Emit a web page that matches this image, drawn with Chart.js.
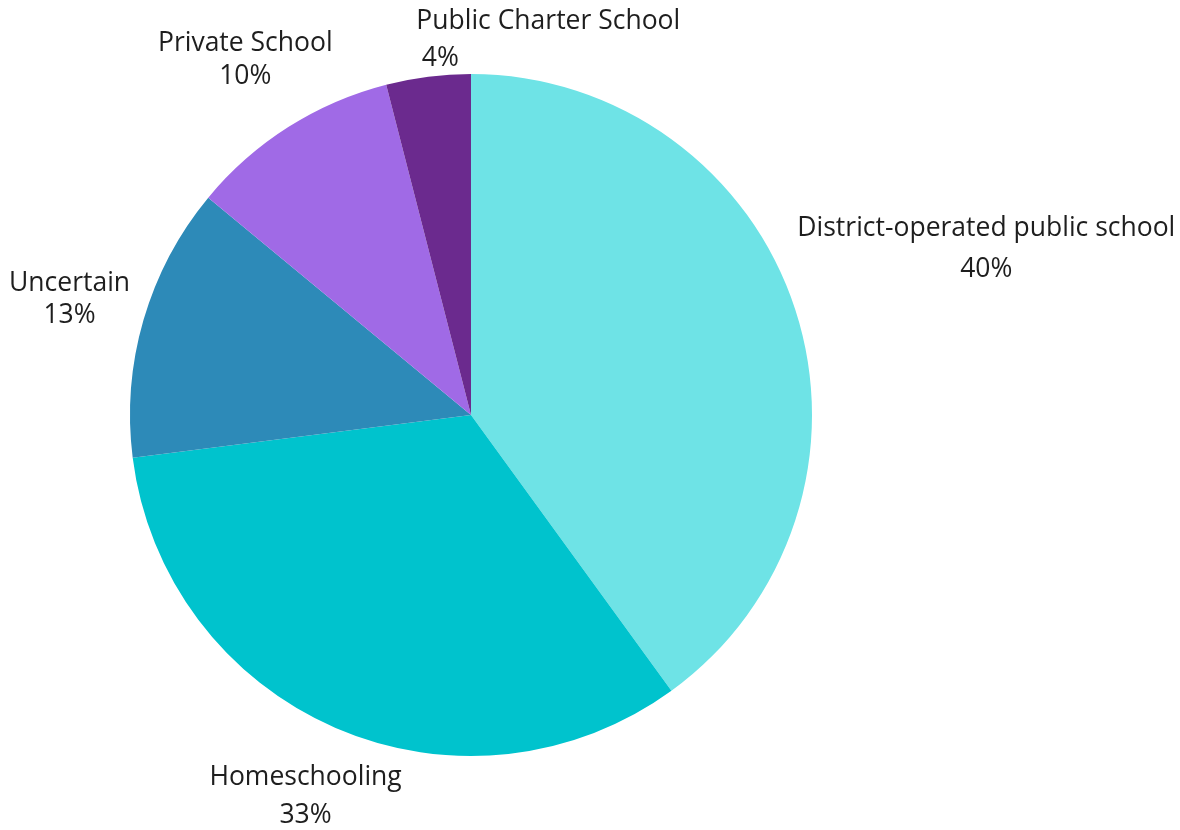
<!DOCTYPE html>
<html>
<head>
<meta charset="utf-8">
<script src="https://cdn.jsdelivr.net/npm/chart.js@4.4.0/dist/chart.umd.min.js"></script>
<style>
  html, body { margin: 0; padding: 0; background: #ffffff; }
  #wrap { width: 1180px; height: 830px; }
</style>
</head>
<body>
<div id="wrap"><canvas id="c" width="1180" height="830"></canvas></div>
<script>
const categories = [
  "District-operated public school",
  "Homeschooling",
  "Uncertain",
  "Private School",
  "Public Charter School"
];
const shares = [40, 33, 13, 10, 4];
const sliceColors = ["#6EE3E6", "#00C3CD", "#2D8AB8", "#A06AE6", "#6B2A8E"];

// label offsets (px) relative to each slice's outer mid-point: [line1 dx, line1 dy, line2 dx, line2 dy]
const labelOffsets = [
  [191, -81, 191, -40],
  [-30, 49, -30, 87],
  [-74, -36, -74, -4],
  [-43, -84, -43, -51],
  [120, -55, 12, -18]
];

const labelPlugin = {
  id: 'outerLabels',
  afterDatasetsDraw(chart) {
    const ctx = chart.ctx;
    const meta = chart.getDatasetMeta(0);
    ctx.save();
    ctx.fillStyle = '#1e1e1e';
    ctx.textAlign = 'center';
    ctx.textBaseline = 'middle';
    ctx.font = '26.5px "Open Sans", Lato, sans-serif';
    meta.data.forEach((arc, i) => {
      const p = arc.getProps(['x', 'y', 'startAngle', 'endAngle', 'outerRadius'], true);
      const mid = (p.startAngle + p.endAngle) / 2;
      const ox = p.x + Math.cos(mid) * p.outerRadius;
      const oy = p.y + Math.sin(mid) * p.outerRadius;
      const o = labelOffsets[i];
      ctx.fillText(categories[i], ox + o[0], oy + o[1]);
      ctx.fillText(shares[i] + '%', ox + o[2], oy + o[3]);
    });
    ctx.restore();
  }
};

new Chart(document.getElementById('c'), {
  type: 'pie',
  data: {
    labels: categories,
    datasets: [{
      data: shares,
      backgroundColor: sliceColors,
      borderWidth: 0
    }]
  },
  options: {
    responsive: false,
    animation: false,
    layout: { padding: { left: 130, right: 368, top: 74, bottom: 74 } },
    plugins: {
      legend: { display: false },
      tooltip: { enabled: false }
    }
  },
  plugins: [labelPlugin]
});
</script>
</body>
</html>
